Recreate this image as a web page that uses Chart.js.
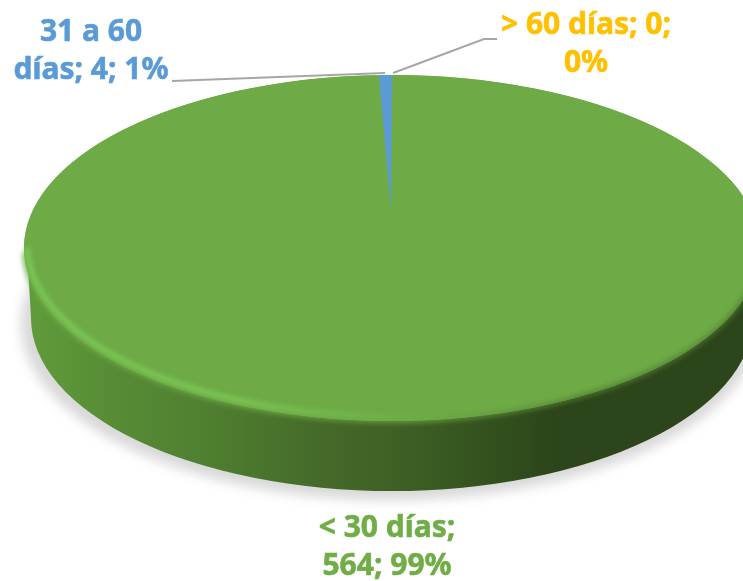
<!DOCTYPE html>
<html>
<head>
<meta charset="utf-8">
<style>
html, body { margin: 0; padding: 0; background: #fff; width: 743px; height: 581px; overflow: hidden; }
#wrap { position: relative; width: 743px; height: 581px; overflow: hidden; }
#pie { position: absolute; left: 0; top: 0; }
</style>
</head>
<body>
<div id="wrap"><canvas id="pie" width="784" height="780"></canvas></div>
<script src="https://cdn.jsdelivr.net/npm/chart.js@4/dist/chart.umd.min.js"></script>
<script>
'use strict';

const categories = ['< 30 días', '31 a 60 días', '> 60 días'];
const seriesValues = [564, 4, 0];
const sliceColors = ['#6eaa46', '#5b9bd5', '#a5a5a5'];
const labelColors = ['#70ad47', '#5b9bd5', '#ffc000'];
const firstLines = ['< 30 días;', '31 a 60', '> 60 días; 0;'];

// where the tilted disc sits on the page
const faceY = 248, faceSquash = 173 / 368;
const depth = 70;
const labelSpots = [[387, 528], [91, 32], [586, 25]];

const total = seriesValues.reduce((a, b) => a + b, 0);

function labelText(i) {
    const pct = Math.round(seriesValues[i] / total * 100);
    const full = categories[i] + '; ' + seriesValues[i] + '; ' + pct + '%';
    return [firstLines[i], full.slice(firstLines[i].length).trim()];
}

function ellipsePath(ctx, x, y, rx, ry) {
    ctx.beginPath();
    ctx.ellipse(x, y, rx, ry, 0, 0, Math.PI * 2);
}

const discPlugin = {
    id: 'disc',
    beforeDatasetsDraw(chart) {
        const ctx = chart.ctx;
        const arcs = chart.getDatasetMeta(0).data;
        const cx = arcs[0].x, rx = arcs[0].outerRadius, ry = rx * faceSquash;
        const lowY = faceY + depth, lowRx = rx - 7;

        // soft shadow under the disc
        ctx.save();
        ctx.filter = 'blur(6px)';
        ctx.fillStyle = '#d8d8d8';
        ellipsePath(ctx, cx - 2, lowY + 6, lowRx + 8, ry + 3);
        ctx.fill();
        ctx.restore();

        // side wall
        const wall = ctx.createLinearGradient(cx - rx, 0, cx + rx, 0);
        wall.addColorStop(0, '#619c3b');
        wall.addColorStop(0.12, '#578c35');
        wall.addColorStop(0.25, '#4f7f30');
        wall.addColorStop(0.4, '#456a29');
        wall.addColorStop(0.5, '#3f6125');
        wall.addColorStop(0.62, '#34531f');
        wall.addColorStop(0.72, '#2c451a');
        wall.addColorStop(1, '#2c451a');
        ctx.save();
        ctx.fillStyle = wall;
        ctx.beginPath();
        ctx.moveTo(cx - rx + 3, faceY);
        ctx.lineTo(cx - lowRx, lowY);
        ctx.ellipse(cx, lowY, lowRx, ry, 0, Math.PI, 0, true);
        ctx.lineTo(cx + rx - 3, faceY);
        ctx.closePath();
        ctx.fill();
        ctx.restore();

        // top face, base colour under the slices
        ctx.fillStyle = sliceColors[0];
        ellipsePath(ctx, cx, faceY, rx, ry);
        ctx.fill();

        // the slices, squashed flat
        arcs.forEach(function (arc, i) {
            ctx.save();
            if (i === 1) {
                // thin slice: apex sits higher up, as in the perspective view
                ctx.translate(391, 210);
                ctx.scale(0.8, 135 / rx);
                ctx.translate(-arc.x, -arc.y);
            } else {
                ctx.translate(cx, faceY);
                ctx.scale(1, faceSquash);
                ctx.translate(-arc.x, -arc.y);
            }
            arc.draw(ctx, chart.chartArea);
            ctx.restore();
        });

        // soft front edge, blends face into the wall
        const edge = ctx.createLinearGradient(cx - rx, 0, cx + rx, 0);
        edge.addColorStop(0, 'rgba(110,170,70,0.9)');
        edge.addColorStop(0.55, 'rgba(110,170,70,0.9)');
        edge.addColorStop(0.75, 'rgba(80,125,50,0.9)');
        edge.addColorStop(1, 'rgba(80,125,50,0.9)');
        ctx.save();
        ctx.filter = 'blur(2.5px)';
        ctx.strokeStyle = edge;
        ctx.lineWidth = 4;
        ctx.beginPath();
        ctx.ellipse(cx, faceY, rx, ry, 0, Math.PI * 0.99, Math.PI * 0.01, true);
        ctx.stroke();
        ctx.restore();

        // bevel highlight along the front-left edge
        const glow = ctx.createLinearGradient(cx - rx, 0, cx + rx, 0);
        glow.addColorStop(0, 'rgba(124,204,88,1)');
        glow.addColorStop(0.3, 'rgba(124,204,88,0.9)');
        glow.addColorStop(0.5, 'rgba(124,204,88,0.2)');
        glow.addColorStop(0.58, 'rgba(124,204,88,0)');
        ctx.save();
        ctx.filter = 'blur(2.5px)';
        ctx.strokeStyle = glow;
        ctx.lineWidth = 5;
        ctx.lineCap = 'round';
        ctx.beginPath();
        ctx.ellipse(cx, faceY - 4, rx - 3, ry - 1, 0, Math.PI * 0.99, Math.PI * 0.3, true);
        ctx.stroke();
        ctx.restore();

        return false;
    },
    afterDraw(chart) {
        const ctx = chart.ctx;
        // leader lines
        ctx.save();
        ctx.strokeStyle = '#a6a6a6';
        ctx.lineWidth = 2;
        ctx.beginPath();
        ctx.moveTo(172, 81);
        ctx.lineTo(385, 73);
        ctx.moveTo(393, 73);
        ctx.lineTo(484, 39);
        ctx.lineTo(497, 39);
        ctx.stroke();
        // data labels
        ctx.font = 'bold 30px "Noto Sans"';
        ctx.textAlign = 'center';
        ctx.textBaseline = 'middle';
        ctx.lineWidth = 0.6;
        categories.forEach(function (c, i) {
            ctx.fillStyle = labelColors[i];
            ctx.strokeStyle = labelColors[i];
            labelText(i).forEach(function (line, k) {
                ctx.fillText(line, labelSpots[i][0], labelSpots[i][1] + k * 38);
                ctx.strokeText(line, labelSpots[i][0], labelSpots[i][1] + k * 38);
            });
        });
        ctx.restore();
    },
};

new Chart(document.getElementById('pie').getContext('2d'), {
    type: 'pie',
    data: {
        labels: categories,
        datasets: [{
            data: seriesValues,
            backgroundColor: sliceColors,
            borderWidth: 0,
        }],
    },
    options: {
        responsive: false,
        animation: false,
        rotation: 0.2,
        layout: { padding: { left: 24, right: 24, top: 20, bottom: 20 } },
        plugins: { legend: { display: false }, tooltip: { enabled: false } },
    },
    plugins: [discPlugin],
});
</script>
</body>
</html>
